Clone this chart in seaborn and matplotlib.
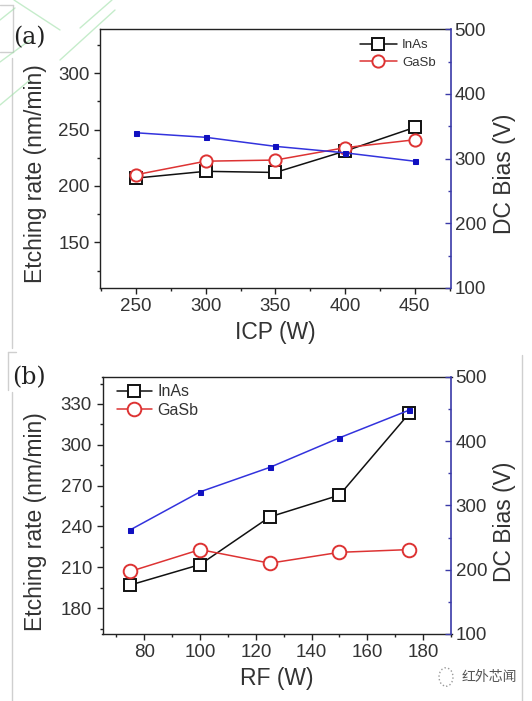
import matplotlib
matplotlib.use("Agg")
import matplotlib.pyplot as plt
import seaborn as sns
import pandas as pd
from matplotlib.lines import Line2D
from matplotlib.patches import Circle
from matplotlib.ticker import MultipleLocator

sns.set_theme(style="white")
plt.rcParams['font.family'] = ['Liberation Sans', 'Noto Sans CJK SC', 'DejaVu Sans']

# Panel (a)
icp = [250, 300, 350, 400, 450]
inas_a = [207, 213, 212, 231, 252]
gasb_a = [210, 222, 223, 234, 241]
bias_a = [340, 333, 319, 309, 296]

# Panel (b)
rf = [75, 100, 125, 150, 175]
inas_b = [197, 212, 247, 263, 323]
gasb_b = [207, 223, 213, 221, 223]
bias_b = [262, 321, 359, 405, 448]

TXT = "#333333"
BLUE_AX = "#3a3aa8"
W, H = 532, 701
fig = plt.figure(figsize=(W / 100, H / 100), dpi=100)

def make_axes(l, t, r, b):
    return fig.add_axes([l / W, 1 - b / H, (r - l) / W, (b - t) / H])

def style(ax, ax2):
    for s in ['left', 'bottom', 'top']:
        ax.spines[s].set_color('#222222')
        ax.spines[s].set_linewidth(1.0)
    ax.spines['right'].set_visible(False)
    for s in ['left', 'bottom', 'top']:
        ax2.spines[s].set_visible(False)
    ax2.spines['right'].set_color(BLUE_AX)
    ax2.spines['right'].set_linewidth(1.2)
    ax.tick_params(axis='both', which='major', direction='out', length=4.5, width=1,
                   labelsize=13.5, labelcolor=TXT, color='#222222', left=True, bottom=True,
                   pad=3)
    ax.tick_params(axis='both', which='minor', direction='out', length=2.5, width=1,
                   color='#222222', left=True, bottom=True)
    ax2.tick_params(axis='y', which='major', direction='in', length=4.5, width=1,
                    labelsize=13.5, labelcolor=TXT, color=BLUE_AX, right=True, pad=3)
    ax2.tick_params(axis='y', which='minor', direction='in', length=2.5, width=1,
                    color=BLUE_AX, right=True)

def draw(ax, x, inas, gasb, bias, ms):
    df = pd.DataFrame({'x': x, 'InAs': inas, 'GaSb': gasb, 'bias': bias})
    sns.lineplot(data=df, x='x', y='InAs', ax=ax, color='#111111', lw=1.1,
                 marker='s', markersize=ms, markerfacecolor='white',
                 markeredgecolor='#111111', markeredgewidth=1.4, label='InAs', zorder=3)
    sns.lineplot(data=df, x='x', y='GaSb', ax=ax, color='#dd3333', lw=1.1,
                 marker='o', markersize=ms + 0.8, markerfacecolor='white',
                 markeredgecolor='#dd3333', markeredgewidth=1.4, label='GaSb', zorder=3)
    ax2 = ax.twinx()
    sns.lineplot(data=df, x='x', y='bias', ax=ax2, color='#3333dd', lw=1.1,
                 marker='s', markersize=3.6, markerfacecolor='#1010c0',
                 markeredgecolor='#1010c0', zorder=2)
    return ax2

def labels(ax, ax2, xl, l, t, r, b, ymid):
    ax.set_xlabel(xl, fontsize=16.5, color=TXT, labelpad=4)
    ax.set_ylabel('Etching rate (nm/min)', fontsize=16.5, color=TXT)
    ax2.set_ylabel('DC Bias (V)', fontsize=16.5, color=TXT)
    ax2.set_xlabel('')
    fy = (b - ymid) / (b - t)
    ax.yaxis.set_label_coords((47 - l) / (r - l), fy)
    ax2.yaxis.set_label_coords((493 - l) / (r - l), fy)

# ---- (a)
L, T, R, B = 100, 29.3, 450.5, 288
ax = make_axes(L, T, R, B)
ax2 = draw(ax, icp, inas_a, gasb_a, bias_a, 8)
ax.set_xlim(224.2, 475.6)
ax.set_ylim(109.5, 339)
ax2.set_ylim(100, 500)
ax.set_xticks([250, 300, 350, 400, 450])
ax.xaxis.set_minor_locator(MultipleLocator(25))
ax.set_yticks([150, 200, 250, 300])
ax.yaxis.set_minor_locator(MultipleLocator(25))
ax2.set_yticks([100, 200, 300, 400, 500])
ax2.yaxis.set_minor_locator(MultipleLocator(50))
style(ax, ax2)
labels(ax, ax2, 'ICP (W)', L, T, R, B, 174)
ax.legend(loc='upper left', frameon=False, fontsize=9.5, handlelength=2.8,
          handletextpad=0.4, borderaxespad=0, borderpad=0, labelspacing=0.4,
          bbox_to_anchor=((360 - L) / (R - L), (B - 39) / (B - T)), labelcolor=TXT)

# ---- (b)
L2, T2, R2, B2 = 102.5, 376.7, 451.5, 634
bx = make_axes(L2, T2, R2, B2)
bx2 = draw(bx, rf, inas_b, gasb_b, bias_b, 9)
bx.set_xlim(65, 190.2)
bx.set_ylim(161, 350)
bx2.set_ylim(100, 500)
bx.set_xticks([80, 100, 120, 140, 160, 180])
bx.xaxis.set_minor_locator(MultipleLocator(10))
bx.set_yticks([180, 210, 240, 270, 300, 330])
bx.yaxis.set_minor_locator(MultipleLocator(15))
bx2.set_yticks([100, 200, 300, 400, 500])
bx2.yaxis.set_minor_locator(MultipleLocator(50))
style(bx, bx2)
labels(bx, bx2, 'RF (W)', L2, T2, R2, B2, 522)
bx.legend(loc='upper left', frameon=False, fontsize=11.5, handlelength=2.2,
          handletextpad=0.35, borderaxespad=0, borderpad=0, labelspacing=0.2,
          bbox_to_anchor=((116.7 - L2) / (R2 - L2), (B2 - 384.5) / (B2 - T2)),
          labelcolor=TXT)

# panel letters
fig.text(29 / W, 1 - 38 / H, '(a)', family='DejaVu Serif', fontsize=17,
         color='#222222', ha='center', va='center')
fig.text(29 / W, 1 - 378 / H, '(b)', family='DejaVu Serif', fontsize=17,
         color='#222222', ha='center', va='center')

# screenshot frame lines
for (x0, y0, x1, y1) in [(13, 5, 13, 52), (0, 5, 13, 5), (0, 52, 13, 52),
                         (12, 58, 12, 348), (8, 352, 8, 390), (8, 352, 16, 352),
                         (12, 392, 12, 701), (522, 355, 522, 701)]:
    fig.add_artist(Line2D([x0 / W, x1 / W], [1 - y0 / H, 1 - y1 / H],
                          color='#cfcfcf', lw=1, transform=fig.transFigure))
# faint green watermark strokes
for (x0, y0, x1, y1) in [(60, 60, 115, 10), (0, 62, 30, 40), (14, 0, 60, 30),
                         (0, 105, 30, 80), (80, 28, 112, 0), (0, 20, 15, 8)]:
    fig.add_artist(Line2D([x0 / W, x1 / W], [1 - y0 / H, 1 - y1 / H],
                          color='#9fe0a8', lw=1, alpha=0.6, transform=fig.transFigure))

# watermark
fig.add_artist(Circle((446 / W, 1 - 677 / H), 7 / W, transform=fig.transFigure,
                      fill=False, ec='#999999', ls=':', lw=1))
fig.text(489 / W, 1 - 677 / H, '红外芯闻', family=['Noto Sans CJK SC', 'DejaVu Sans'],
         fontsize=10, color='#555555', ha='center', va='center')

fig.savefig('out.png', dpi=100)
